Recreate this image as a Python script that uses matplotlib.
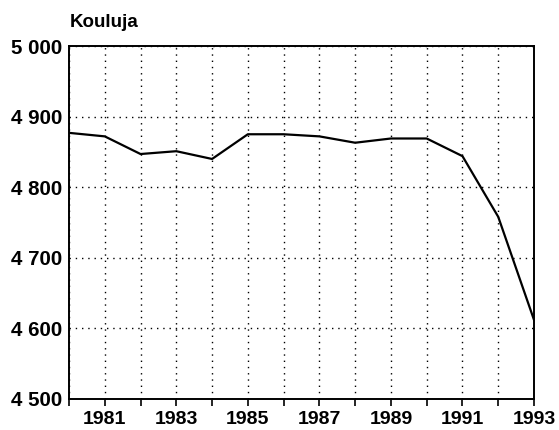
import matplotlib.pyplot as plt
from matplotlib.ticker import FuncFormatter

vuodet = list(range(1980, 1994))
koulut = [4877, 4872, 4847, 4851, 4840, 4875, 4875, 4872, 4863, 4869, 4869, 4844, 4758, 4612]
y_tikit = [4500, 4600, 4700, 4800, 4900, 5000]
x_tikit = list(range(1980, 1994))
x_nimet = [str(v) if v % 2 == 1 else "" for v in x_tikit]

plt.rcParams["font.family"] = ["Liberation Sans", "DejaVu Sans"]
plt.rcParams["font.weight"] = "bold"

fig = plt.figure(figsize=(5.59, 4.30), dpi=100)
ax = fig.add_axes([0.1234, 0.0721, 0.8319, 0.8209])

ax.plot(vuodet, koulut, color="black", linewidth=1.6)

ax.set_xlim(1980, 1993)
ax.set_ylim(4500, 5000)
ax.set_xticks(x_tikit)
ax.set_xticklabels(x_nimet)
ax.set_yticks(y_tikit)
ax.yaxis.set_major_formatter(FuncFormatter(lambda v, p: f"{int(v):,}".replace(",", " ")))

ax.grid(True, linestyle=(0, (1, 3.5)), color="black", linewidth=1.0)
ax.tick_params(axis="x", direction="out", length=5, width=1.2, labelsize=14, pad=4)
ax.tick_params(axis="y", length=0, labelsize=14.8, pad=4.5)
for s in ax.spines.values():
    s.set_linewidth(1.4)

fig.text(0.125, 0.948, "Kouluja", fontsize=13.5, ha="left", va="center")

fig.savefig("out.png", dpi=100)
